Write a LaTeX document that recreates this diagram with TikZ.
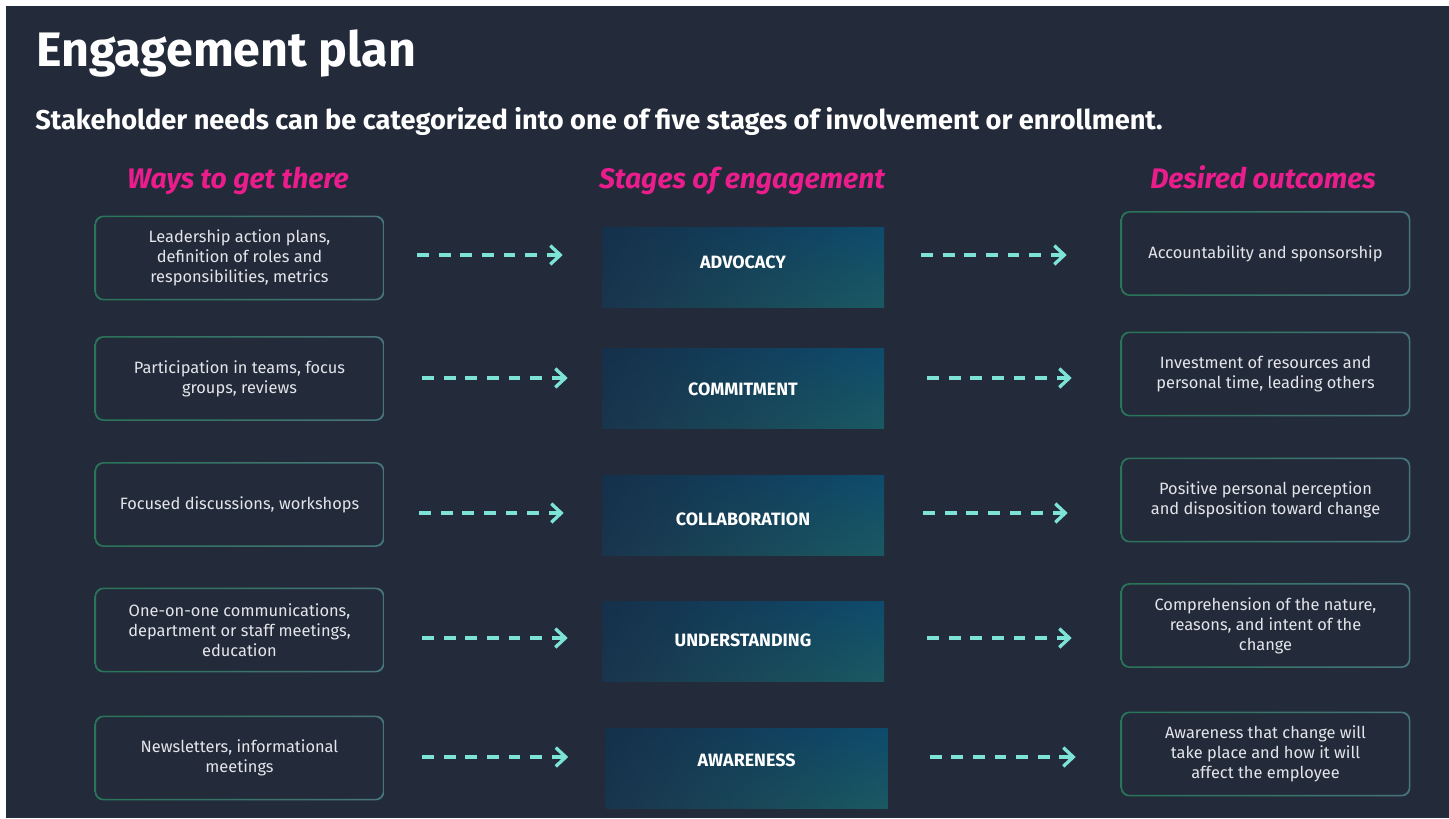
\documentclass[tikz,border=0pt]{standalone}
\usepackage{fontspec}
\setmainfont{Fira Sans}
\usetikzlibrary{arrows.meta,shadings}
\definecolor{bgdark}{HTML}{232B3A}
\definecolor{hotpink}{HTML}{EB1C8C}
\definecolor{flowcyan}{HTML}{7DE3D6}
\definecolor{rimgreen}{HTML}{2A7458}
\definecolor{rimteal}{HTML}{47757B}
\definecolor{boxtext}{HTML}{E3E5EA}
\definecolor{stageUL}{HTML}{15304A}
\definecolor{stageLL}{HTML}{19354D}
\definecolor{stageUR}{HTML}{0E4B6C}
\definecolor{stageLR}{HTML}{1A5962}
\begin{document}
\begin{tikzpicture}[x=.75pt,y=-.75pt,line join=round,
	way/.style={minimum width=216.75pt,minimum height=63pt,align=center,
		text=boxtext,font=\fontsize{12.3}{15}\selectfont,inner sep=0pt},
	stage/.style={minimum width=211.5pt,minimum height=60pt,
		upper left=stageUL,lower left=stageLL,upper right=stageUR,lower right=stageLR},
	stagetext/.style={text=white,inner sep=0pt,font=\fontsize{13.4}{15}\selectfont\bfseries},
	head/.style={anchor=base,text=hotpink,font=\fontsize{21.2}{24}\selectfont\bfseries\itshape},
	flow/.style={draw=flowcyan,line width=2.5pt,dash pattern=on 8.8pt off 7.4pt,
		-{Straight Barb[length=7.5pt,width=14pt]}}]
	\useasboundingbox (0,0) rectangle (1449,818);
	\fill[white] (0,0) rectangle (1449,818);
	\fill[bgdark] (6,6) rectangle (1449,818);
	% titles
	\node[anchor=base west,inner sep=0pt,text=white,font=\fontsize{36.3}{40}\selectfont\bfseries]
		(title) at (36,66) {Engagement plan};
	\node[anchor=base west,inner sep=0pt,text=white,font=\fontsize{20.4}{24}\selectfont\bfseries]
		(sub) at (35,129) {Stakeholder needs can be categorized into one of five stages of involvement or enrollment.};
	\node[head] (h1) at (238,188) {Ways to get there};
	\node[head] (h2) at (742,188) {Stages of engagement};
	\node[head] (h3) at (1263,188) {Desired outcomes};
	% ways
	\node[way] (l1) at (239.5,258) {Leadership action plans,\\definition of roles and\\responsibilities, metrics};
	\node[way] (l2) at (239.5,378.5) {Participation in teams, focus\\groups, reviews};
	\node[way] (l3) at (239.5,504.5) {Focused discussions, workshops};
	\node[way] (l4) at (239.5,630) {One-on-one communications,\\department or staff meetings,\\education};
	\node[way] (l5) at (239.5,758) {Newsletters, informational\\meetings};
	% stages
	\node[stage] (m1) at (743,267) {};
	\node[stage] (m2) at (743,388.5) {};
	\node[stage] (m3) at (743,515) {};
	\node[stage] (m4) at (743,641) {};
	\node[stage] (m5) at (746.5,768.5) {};
	\foreach \i/\t/\y in {1/ADVOCACY/262,2/COMMITMENT/389,3/COLLABORATION/519,4/UNDERSTANDING/640,5/AWARENESS/760}
		\node[stagetext] (t\i) at (m\i.center |- 0,\y) {\t};
	% outcomes
	\node[way] (r1) at (1265.5,253.5) {Accountability and sponsorship};
	\node[way] (r2) at (1265.5,374) {Investment of resources and\\personal time, leading others};
	\node[way] (r3) at (1265.5,500) {Positive personal perception\\and disposition toward change};
	\node[way] (r4) at (1265.5,625.5) {Comprehension of the nature,\\reasons, and intent of the\\change};
	\node[way] (r5) at (1265.5,754) {Awareness that change will\\take place and how it will\\affect the employee};
	% rims
	\foreach \n in {l1,l2,l3,l4,l5,r1,r2,r3,r4,r5}
		\shade[left color=rimgreen,right color=rimteal,even odd rule,rounded corners=6pt]
			(\n.south west) rectangle (\n.north east)
			([xshift=1pt,yshift=1pt]\n.south west) rectangle ([xshift=-1pt,yshift=-1pt]\n.north east);
	% arrows
	\foreach \i/\y/\a/\b/\c/\d in {1/255/24.75/29.25/27.75/40.5,2/378/28.5/25.5/32.25/36.75,
			3/513/26.25/28.5/29.25/39.75,4/638/28.5/25.5/32.25/36.75,5/757/28.5/27.75/31.5/33.75}{
		\draw[flow,shorten <=\a pt,shorten >=\b pt] (l\i.east |- 0,\y) -- (m\i.west |- 0,\y);
		\draw[flow,shorten <=\c pt,shorten >=\d pt] (m\i.east |- 0,\y) -- (r\i.west |- 0,\y);
	}
\end{tikzpicture}
\end{document}
